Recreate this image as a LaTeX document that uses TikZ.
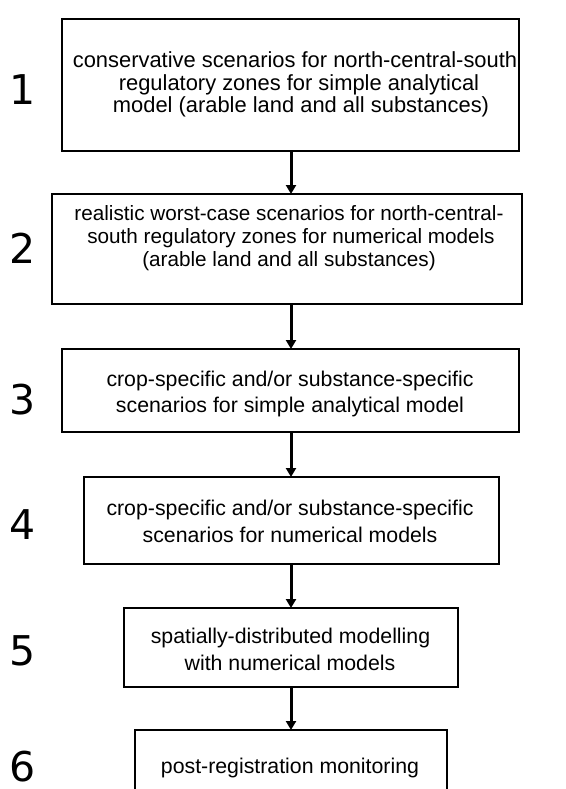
\documentclass[tikz,border=0pt]{standalone}
\usepackage{fontspec}
\setmainfont{Liberation Sans}
\newfontfamily\numfont{DejaVu Sans}
\usetikzlibrary{arrows.meta}
\begin{document}
\begin{tikzpicture}[x=1pt,y=-1pt,
  box/.style={draw=black, line width=2pt, rectangle, inner sep=0pt, outer sep=0pt},
  txt/.style={anchor=base, inner sep=0pt, font=\fontsize{21.3}{23}\selectfont},
  txta/.style={txt, font=\fontsize{21.9}{23}\selectfont},
  txtb/.style={txt, font=\fontsize{20.7}{23}\selectfont},
  num/.style={anchor=base, inner sep=0pt, font=\numfont\fontsize{41}{41}\selectfont},
  arr/.style={line width=3pt, -{Triangle[width=10pt,length=9pt]}}]
\useasboundingbox (0,0) rectangle (565,789);
\clip (0,0) rectangle (565,789);
\fill[white] (0,0) rectangle (565,789);
\coordinate (axis) at (291,0);

% boxes
\node[box, minimum width=457pt, minimum height=132pt] (b1) at (290.5,85) {};
\node[box, minimum width=470pt, minimum height=110pt] (b2) at (287,249) {};
\node[box, minimum width=457pt, minimum height=83pt] (b3) at (290.5,390.5) {};
\node[box, minimum width=415pt, minimum height=87pt] (b4) at (291.5,520.5) {};
\node[box, minimum width=334pt, minimum height=79pt] (b5) at (291,647.5) {};
\node[box, minimum width=312pt, minimum height=70pt] (b6) at (291,765) {};

% texts
\node[txta] (t1a) at (295,68) {conservative scenarios for north-central-south};
\node[txta] (t1b) at (299,90.5) {regulatory zones for simple analytical};
\node[txta] (t1c) at (301,113) {model (arable land and all substances)};

\node[txtb] (t2a) at (289,220) {realistic worst-case scenarios for north-central-};
\node[txtb] (t2b) at (291,243) {south regulatory zones for numerical models};
\node[txtb] (t2c) at (289,266) {(arable land and all substances)};

\node[txt] (t3a) at (290,386) {crop-specific and/or substance-specific};
\node[txt] (t3b) at (290,412) {scenarios for simple analytical model};

\node[txt] (t4a) at (290,515) {crop-specific and/or substance-specific};
\node[txt] (t4b) at (290,542) {scenarios for numerical models};

\node[txt] (t5a) at (290.5,643) {spatially-distributed modelling};
\node[txt] (t5b) at (290,670) {with numerical models};

\node[txt] (t6a) at (290,773) {post-registration monitoring};

% step numbers
\node[num] (n1) at (22.5,105) {1};
\node[num] (n2) at (22.5,263) {2};
\node[num] (n3) at (22.5,414) {3};
\node[num] (n4) at (22.5,539) {4};
\node[num] (n5) at (22.5,665) {5};
\node[num] (n6) at (22.5,781) {6};

% arrows
\draw[arr] (b1.south -| axis) -- (b2.north -| axis);
\draw[arr] (b2.south -| axis) -- (b3.north -| axis);
\draw[arr] (b3.south -| axis) -- (b4.north -| axis);
\draw[arr] (b4.south -| axis) -- (b5.north -| axis);
\draw[arr] (b5.south -| axis) -- (b6.north -| axis);
\end{tikzpicture}
\end{document}
